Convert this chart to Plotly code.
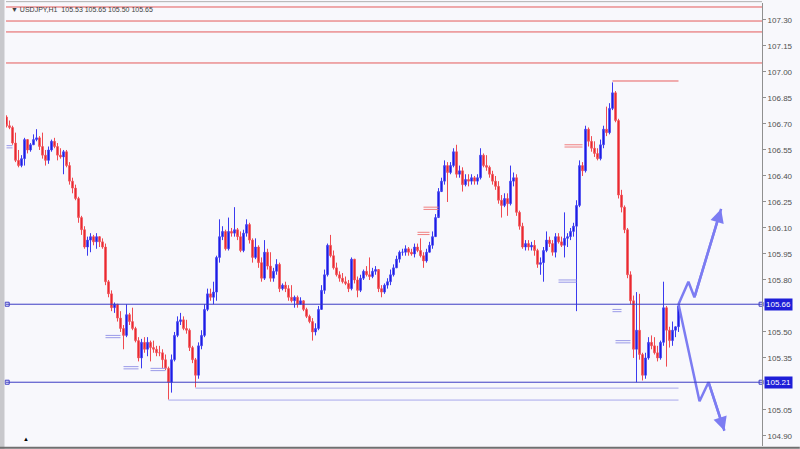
import plotly.graph_objects as go

# ---------------- data (USDJPY H1) ----------------
first_open = 106.74
close = [106.69,106.68,106.59,106.49,106.46,106.50,106.61,106.55,106.58,106.61,
         106.62,106.57,106.52,106.49,106.55,106.60,106.57,106.52,106.51,106.54,
         106.46,106.37,106.33,106.27,106.16,106.09,105.99,106.03,106.05,106.02,
         106.05,106.02,105.99,105.79,105.72,105.64,105.66,105.58,105.52,105.48,
         105.60,105.56,105.52,105.45,105.35,105.44,105.40,105.44,105.41,105.40,
         105.38,105.38,105.34,105.29,105.21,105.34,105.48,105.56,105.57,105.52,
         105.51,105.41,105.34,105.25,105.42,105.48,105.63,105.72,105.70,105.73,
         105.93,106.05,106.08,105.98,106.08,106.07,106.09,106.05,105.97,106.07,
         106.12,106.03,105.93,105.99,105.90,105.81,105.96,105.88,105.81,105.85,
         105.89,105.75,105.77,105.75,105.70,105.68,105.70,105.66,105.68,105.63,
         105.59,105.56,105.50,105.52,105.63,105.74,105.83,106.00,105.94,105.87,
         105.83,105.81,105.79,105.78,105.75,105.92,105.80,105.74,105.81,105.85,
         105.83,105.82,105.85,105.86,105.75,105.73,105.77,105.79,105.83,105.87,
         105.92,105.96,105.96,105.98,105.96,105.95,105.99,105.97,105.94,105.91,
         105.96,106.00,106.05,106.16,106.31,106.37,106.46,106.42,106.46,106.54,
         106.41,106.43,106.35,106.38,106.37,106.39,106.37,106.39,106.52,106.46,
         106.45,106.41,106.37,106.34,106.26,106.23,106.27,106.24,106.37,106.39,
         106.19,106.11,105.99,106.01,105.99,106.00,105.97,105.89,105.90,105.97,
         106.03,106.01,105.96,106.05,106.02,106.00,106.04,106.05,106.08,106.11,
         106.23,106.46,106.43,106.67,106.60,106.56,106.53,106.50,106.58,106.67,
         106.65,106.79,106.88,106.72,106.29,106.22,106.09,105.83,105.68,105.40,
         105.51,105.37,105.25,105.35,105.44,105.42,105.38,105.35,105.44,105.64,
         105.51,105.45,105.51,105.53,105.65]
high = [106.75,106.72,106.69,106.65,106.55,106.52,106.62,106.61,106.59,106.64,
        106.67,106.63,106.65,106.55,106.57,106.61,106.62,106.59,106.56,106.55,
        106.55,106.48,106.39,106.35,106.28,106.17,106.11,106.05,106.07,106.06,
        106.07,106.05,106.04,106.01,105.80,105.74,105.67,105.66,105.62,105.54,
        105.66,105.61,105.64,105.53,105.47,105.46,105.47,105.47,105.45,105.45,
        105.42,105.42,105.40,105.37,105.30,105.37,105.50,105.59,105.61,105.59,
        105.57,105.52,105.42,105.35,105.44,105.51,105.66,105.75,105.75,105.79,
        105.94,106.15,106.11,106.09,106.16,106.10,106.22,106.10,106.08,106.09,
        106.15,106.13,106.04,106.04,106.00,105.93,106.03,105.98,105.96,105.87,
        105.92,105.90,105.78,105.79,105.77,105.77,105.71,105.71,105.70,105.67,
        105.64,105.60,105.58,105.55,105.65,105.77,105.86,106.01,106.06,105.97,
        105.90,105.85,105.84,105.82,105.80,105.93,105.92,105.82,105.83,105.86,
        105.88,105.93,105.87,105.88,105.85,105.77,105.78,105.81,105.86,105.89,
        105.94,105.97,105.98,106.00,105.99,105.98,106.01,106.01,106.04,105.96,
        105.98,106.02,106.08,106.18,106.33,106.39,106.49,106.48,106.48,106.56,
        106.58,106.46,106.45,106.41,106.41,106.41,106.40,106.41,106.56,106.53,
        106.52,106.46,106.43,106.40,106.37,106.29,106.30,106.30,106.46,106.42,
        106.41,106.20,106.13,106.03,106.03,106.02,106.03,105.98,105.93,105.99,
        106.08,106.05,106.03,106.07,106.07,106.05,106.19,106.07,106.10,106.13,
        106.26,106.49,106.48,106.69,106.68,106.63,106.60,106.56,106.61,106.69,
        106.80,106.82,106.94,106.89,106.73,106.32,106.23,106.10,105.85,105.71,
        105.73,105.72,105.38,105.38,105.47,105.48,105.47,105.42,105.45,105.79,
        105.65,105.53,105.56,105.53,105.65]
low = [106.68,106.67,106.58,106.48,106.45,106.45,106.46,106.53,106.54,106.58,
       106.60,106.55,106.50,106.46,106.47,106.54,106.56,106.49,106.50,106.41,
       106.45,106.35,106.30,106.26,106.13,106.06,105.98,105.94,105.96,106.00,
       105.98,105.99,105.98,105.77,105.70,105.62,105.61,105.56,105.50,105.40,
       105.47,105.54,105.51,105.44,105.33,105.29,105.38,105.36,105.33,105.38,
       105.36,105.36,105.29,105.28,105.11,105.15,105.33,105.47,105.54,105.51,
       105.49,105.39,105.32,105.18,105.23,105.40,105.47,105.62,105.68,105.66,
       105.68,105.90,106.03,105.97,105.97,106.05,106.05,106.03,105.96,105.96,
       106.05,106.01,105.90,105.92,105.87,105.79,105.80,105.86,105.79,105.79,
       105.83,105.73,105.74,105.73,105.68,105.67,105.64,105.64,105.66,105.62,
       105.58,105.55,105.45,105.48,105.51,105.63,105.72,105.82,105.93,105.86,
       105.82,105.79,105.78,105.77,105.73,105.74,105.78,105.70,105.73,105.80,
       105.82,105.80,105.81,105.83,105.73,105.70,105.72,105.75,105.77,105.82,
       105.87,105.90,105.94,105.94,105.94,105.94,105.93,105.96,105.93,105.87,
       105.90,105.96,105.98,106.05,106.17,106.32,106.35,106.25,106.41,106.45,
       106.39,106.39,106.31,106.34,106.34,106.35,106.35,106.35,106.38,106.45,
       106.43,106.39,106.35,106.32,106.24,106.16,106.22,106.17,106.23,106.34,
       106.17,106.09,105.98,105.97,105.97,105.97,105.94,105.87,105.83,105.79,
       105.96,105.99,105.94,105.93,106.01,105.99,105.93,105.99,106.03,106.05,
       105.62,106.22,106.40,106.42,106.57,106.54,106.51,106.49,106.49,106.56,
       106.63,106.64,106.78,106.71,106.27,106.19,106.07,105.81,105.66,105.35,
       105.21,105.34,105.22,105.23,105.34,105.40,105.37,105.33,105.34,105.42,
       105.30,105.41,105.42,105.47,105.50]

# horizontal levels drawn across the whole chart
red_levels = [107.375, 107.294, 107.231, 107.052]
blue_levels = [105.66, 105.21]
# partial levels: (price, first bar, last bar, colour)
partial_levels = [(106.948, 202, 224, "#e86060"),
                  (105.176, 63, 224, "#a8a8ec"),
                  (105.107, 54, 224, "#a8a8ec")]
# small double order markers: (price, first bar, last bar, colour)
order_marks = [(106.575, 0, 2, "#9a9ae8"), (105.48, 33, 38, "#9a9ae8"),
               (105.30, 39, 44, "#9a9ae8"), (105.29, 48, 53, "#9a9ae8"),
               (106.22, 139, 144, "#f08080"), (106.075, 137, 141, "#f08080"),
               (106.58, 186, 192, "#f08080"), (105.80, 184, 190, "#9a9ae8"),
               (105.63, 202, 205, "#9a9ae8"), (105.45, 203, 208, "#9a9ae8")]
# projected scenario paths (bar index, price)
up_x = [224, 227.3, 229.3, 238.2]
up_y = [105.66, 105.79, 105.70, 106.21]
dn_x = [224, 231.0, 234.0, 239.3]
dn_y = [105.66, 105.10, 105.21, 104.93]

tick_vals = [104.90, 105.05, 105.35, 105.50, 105.80, 105.95,
             106.10, 106.25, 106.40, 106.55, 106.70, 106.85, 107.00, 107.15, 107.30]
title_text = "USDJPY,H1  105.53 105.65 105.50 105.65"

# ---------------- figure ----------------
opens = [first_open] + close[:-1]
bars = list(range(len(close)))
x_min, x_max = -0.17, 251.83
y_min, y_max = 104.842, 107.398

fig = go.Figure()
fig.add_trace(go.Candlestick(
    x=bars, open=opens, high=high, low=low, close=close,
    increasing=dict(line=dict(color="#3a3af0", width=1), fillcolor="#0808d8"),
    decreasing=dict(line=dict(color="#f04a50", width=1), fillcolor="#e41018"),
    whiskerwidth=0, showlegend=False, hoverinfo="skip"))

shapes = []
for p in red_levels:
    shapes.append(dict(type="line", xref="x", yref="y", x0=x_min, x1=x_max, y0=p, y1=p,
                       line=dict(color="#e45a5a", width=1), layer="below"))
for p in blue_levels:
    shapes.append(dict(type="line", xref="x", yref="y", x0=x_min, x1=x_max, y0=p, y1=p,
                       line=dict(color="#3c3cc4", width=1)))
for p, a, b, c in partial_levels:
    shapes.append(dict(type="line", xref="x", yref="y", x0=a, x1=b, y0=p, y1=p,
                       line=dict(color=c, width=1)))
for p, a, b, c in order_marks:
    for d in (0.0, -0.013):
        shapes.append(dict(type="line", xref="x", yref="y", x0=a, x1=b, y0=p + d, y1=p + d,
                           line=dict(color=c, width=1)))
# window frame pieces
shapes.append(dict(type="rect", xref="paper", yref="paper", x0=-0.008, x1=-0.002, y0=-0.01, y1=1.01,
                   line=dict(width=0), fillcolor="#c8c8cc"))
shapes.append(dict(type="line", xref="paper", yref="paper", x0=-0.008, x1=1.05, y0=-0.004, y1=-0.004,
                   line=dict(color="#707070", width=2)))
shapes.append(dict(type="line", xref="paper", yref="paper", x0=0, x1=1, y0=1.003, y1=1.003,
                   line=dict(color="#b0b0b0", width=1)))

# scenario paths
fig.add_trace(go.Scatter(x=up_x, y=up_y, mode="lines", line=dict(color="#7c7cf2", width=2.5),
                         showlegend=False, hoverinfo="skip"))
fig.add_trace(go.Scatter(x=dn_x, y=dn_y, mode="lines", line=dict(color="#7c7cf2", width=2.5),
                         showlegend=False, hoverinfo="skip"))
# level handles
for p in blue_levels:
    fig.add_trace(go.Scatter(x=[x_min + 0.4, x_max - 0.3], y=[p, p], mode="markers",
                             marker=dict(symbol="square-open", size=4, color="#3c3cc4", line=dict(width=1)),
                             showlegend=False, hoverinfo="skip", cliponaxis=False))

annotations = []
for xs, ys in ((up_x, up_y), (dn_x, dn_y)):
    annotations.append(dict(x=xs[-1], y=ys[-1], ax=xs[-2], ay=ys[-2], xref="x", yref="y",
                            axref="x", ayref="y", showarrow=True, arrowhead=2, arrowsize=1.1,
                            arrowwidth=2.5, arrowcolor="#7c7cf2", text=""))
for p in blue_levels:
    annotations.append(dict(x=1.0, y=p, xref="paper", yref="y", xanchor="left", yanchor="middle",
                            xshift=2, text=f"{p:.2f}", showarrow=False, bgcolor="#1e1ed8",
                            font=dict(color="white", size=8, family="Liberation Sans"),
                            borderpad=1))
annotations.append(dict(x=0, y=1, xref="paper", yref="paper", xanchor="left", yanchor="top",
                        xshift=3, yshift=-1, text="▼ " + title_text, showarrow=False,
                        font=dict(color="#404040", size=7, family="Liberation Sans")))
annotations.append(dict(x=0.027, y=0, xref="paper", yref="paper", xanchor="center", yanchor="bottom",
                        yshift=1, text="▲", showarrow=False, font=dict(color="black", size=6)))

fig.update_layout(
    width=800, height=449,
    margin=dict(l=6, r=38, t=3, b=3),
    paper_bgcolor="#f8f8fc", plot_bgcolor="#f8f8fc",
    shapes=shapes, annotations=annotations,
    xaxis=dict(range=[x_min, x_max], showticklabels=False, showgrid=False, zeroline=False,
               rangeslider=dict(visible=False), fixedrange=True),
    yaxis=dict(range=[y_min, y_max], side="right", tickvals=tick_vals,
               ticktext=[f"{v:.2f}" for v in tick_vals], showgrid=False, zeroline=False,
               ticks="outside", ticklen=3, tickcolor="#909090", showline=True,
               linecolor="#909090", linewidth=1, mirror=False,
               tickfont=dict(size=8, color="#505050", family="Liberation Sans")),
)
fig.write_html("out.html", config={"displayModeBar": False},
               post_script="document.body.style.margin='0';document.body.style.overflow='hidden';")
